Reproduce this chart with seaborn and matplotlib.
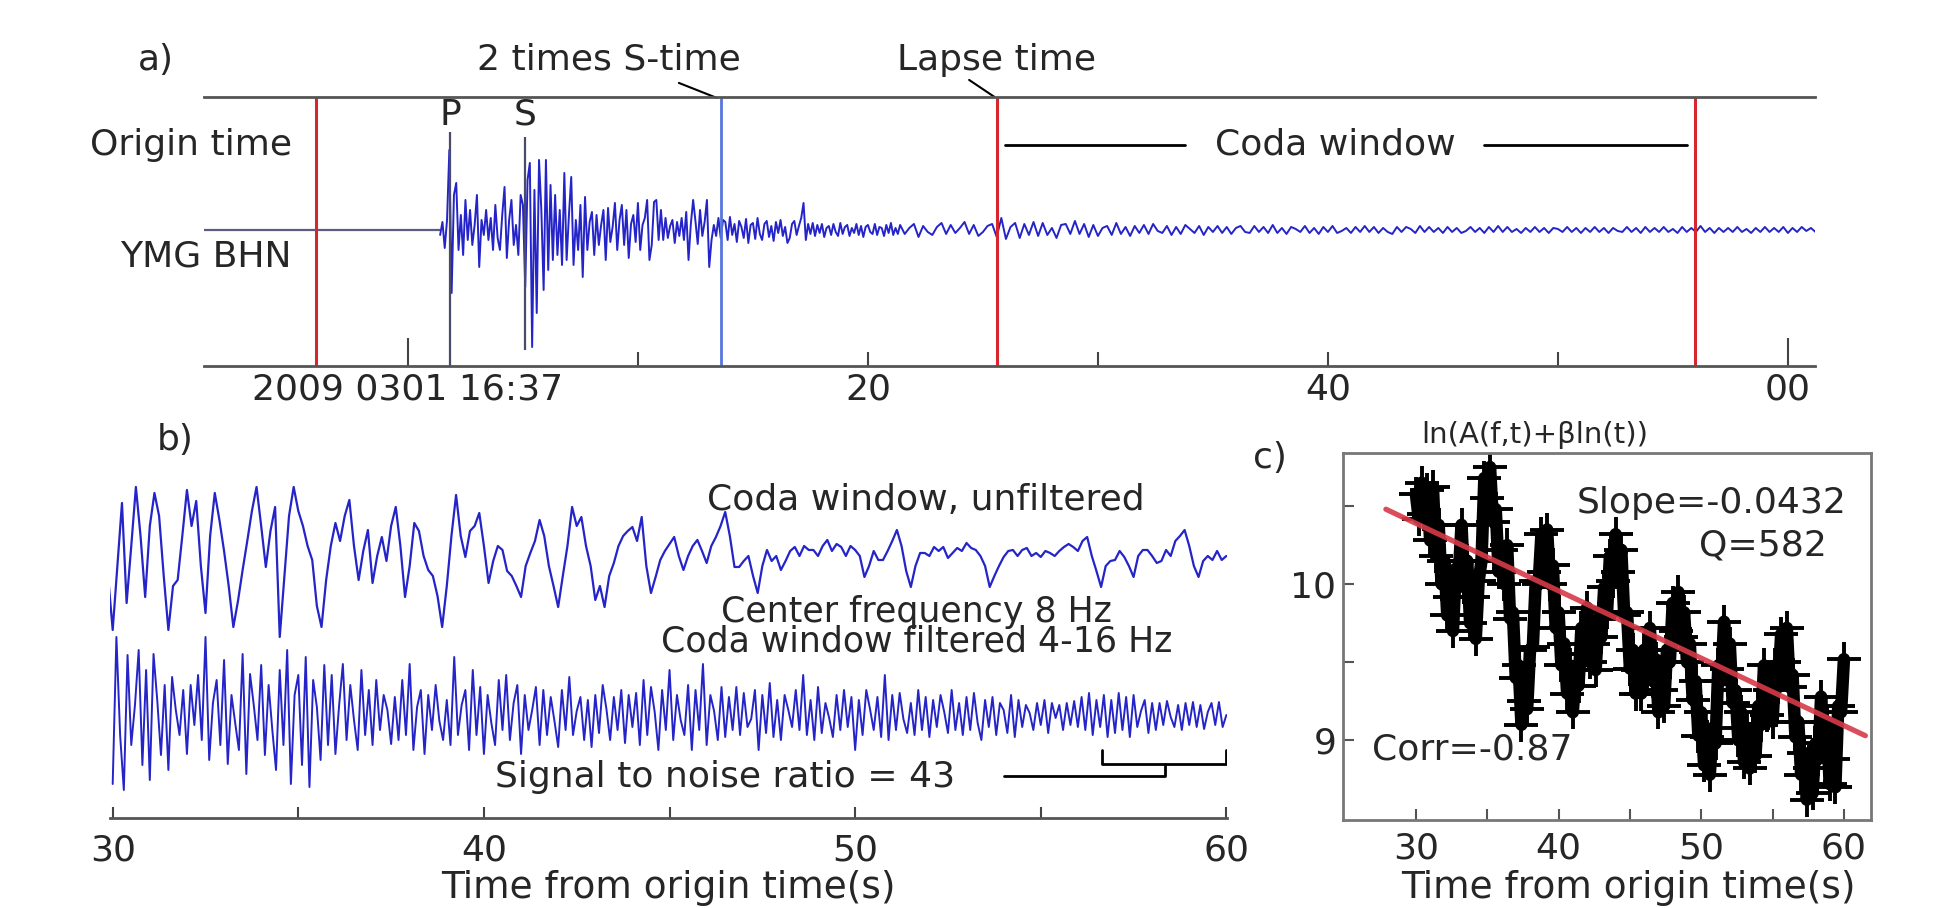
import numpy as np
import pandas as pd
import seaborn as sns
import matplotlib.pyplot as plt

# ---------------- panel a: YMG BHN, seconds after 2009-03-01 16:37:00 ----------------
# early part (P, S and early coda) read every 0.1 s
early_start = 1.4
early_dt = 0.1
early_amp = [
    -5, 8, -18, 10, 80, -63, 35, 47, -20, 15,
    -25, 30, -10, 20, -15, 5, 35, -37, 10, -5,
    20, -10, 12, -20, 25, -8, -20, 15, 43, -28,
    10, 30, -15, 5, -25, 35, 25, -57, 50, 67,
    -117, 40, -83, 70, 20, -60, 70, -40, 45, -30,
    35, -25, 20, -35, 57, -30, 15, 53, -35, 10,
    -20, 25, -47, 33, -20, 8, 18, -25, 15, -15,
    5, 20, -30, 22, -12, 3, 27, -20, 10, 25,
    -15, 20, -28, 6, 15, -12, 27, -20, 5, 12,
    30, -30, -15, 28, 30, -10, 20, -10, 12, -8,
    4, 10, -13, 8, -6, 12, -10, 18, -30, 6,
    30, 9, -14, 20, -6, 8, 30, -37, -10, 5,
    -6, 12, -8, 10, 8, -10, 13, -5, 6, -12,
    9, 3, -8, 11, -13, 5, 7, -9, 12, -4,
    -10, 6, 9, -7, 4, -11, 8, -3, 10, -6,
    3, -13, -8, 6, 9, -5, 4, 12, 27, -10,
    6, -4, 7, -6, 5, -3, 6, -7, 2, 4,
    -5, 6, -2, -6, 7, -4, 3, 5, -6, 2,
    -3, 6, -5, 4, -7, 3, 5, -2, -4, 6,
    -5, 3, 2, -6, 5, -3, 7, -5, 2, -4,
]
# late coda read every 0.2 s
late_start = 21.4
late_dt = 0.2
late_amp = [
    5, -4, 2, 6, -7, 4, -2, -5, 3, 7,
    -4, 5, -3, 2, 8, -4, 5, -6, -2, 4,
    6, -7, 12, -9, 3, 7, -8, 6, -5, 8,
    -6, 7, -5, 2, -8, 5, 6, -4, 9, -4,
    6, -7, 5, -6, 2, 4, -5, 7, -4, 3,
    -6, 4, -3, 5, -4, 6, -1, -3, 4, -5,
    3, -4, 5, 1, -3, 4, -5, 3, -2, 4,
    -3, 3, -4, 2, 4, -2, -3, 4, -2, 3,
    -3, 5, -3, 2, -4, 3, 1, -2, 4, -3,
    2, -4, 3, -2, 4, -3, -1, 2, -3, 3,
    -2, 4, -2, 3, -3, 2, -2, -4, 3, -2,
    3, 1, -3, 4, -2, 3, -2, 2, -3, 3,
    -2, 2, -3, -1, 3, -2, 2, -3, 3, -2,
    4, -2, 3, -2, 1, -3, 2, -2, 3, -2,
    2, -3, 2, 1, -2, 3, -2, 2, -3, 2,
    -2, 3, -2, 2, -3, 2, -1, -2, 3, -2,
    2, -3, 3, -2, 2, -2, 3, -2, 1, -3,
    3, -2, 2, -2, 4, -2, 2, -3, 2, -2,
    2, -2, 3, -2, 1, -3, 2, -2, 3, -2,
    2, -2, 3, -3, 2, -2, 3, -1, 2, -2,
    0,
]
origin_t = -4.0
p_t = 1.83
s_t = 5.09
two_s_t = 13.6
lapse_t = 25.6
coda_end_t = 55.95

# ---------------- panel b: coda window 30-60 s from origin ----------------
unf_start = 29.875
unf_dt = 0.125
unfiltered = [
    -20, -74, -10, 53, -47, 10, 69, 20,
    -41, 30, 63, 40, -20, -74, -30, -24,
    20, 66, 30, 55, -10, -57, 20, 63,
    36, 5, -30, -71, -45, -14, 15, 45,
    69, 30, -11, 25, 49, -81, -20, 40,
    69, 45, 30, 10, -4, -50, -71, -24,
    10, 33, 15, 40, 56, 10, -24, 5,
    26, -27, 0, 19, -5, 30, 49, 10,
    -41, -10, 33, 25, 0, -14, -20, -40,
    -71, -30, 20, 61, 20, -1, 25, 30,
    43, 10, -27, -5, 10, 6, -15, -20,
    -30, -41, -10, 3, 15, 36, 20, -10,
    -30, -51, -20, 10, 49, 30, 39, 10,
    -10, -44, -30, -51, -20, -7, 10, 20,
    25, 29, 15, 39, -10, -37, -21, -4,
    5, 12, 19, 0, -14, 0, 10, 16,
    5, -7, 10, 19, 30, 44, 20, -11,
    -11, -5, 0, -20, -37, -10, 6, -5,
    0, -14, -5, 5, 9, 0, 10, 6,
    6, 0, 10, 16, 5, 12, 9, 0,
    10, 6, 0, -21, -10, 5, -4, -4,
    5, 15, 26, 10, -15, -31, -10, 3,
    3, 0, 9, 5, 9, -2, 3, 8,
    5, 13, 8, 6, 0, -10, -31, -20,
    -10, -1, 5, 6, 0, 6, 8, 0,
    3, -1, 5, 3, 0, 5, 9, 12,
    9, 5, 15, 19, 0, -15, -31, -10,
    -5, -4, 5, -1, -10, -21, 0, 6,
    6, 0, -7, -5, 6, 0, 15, 20,
    26, 10, -10, -21, -5, 0, -4, 5,
    -4, 0,
]
filt_start = 30.0
filt_dt = 0.1
filtered = [
    -69, 78, -20, -75, 60, -30, 10, 65, -50, 45,
    -65, 61, 15, -40, 30, -55, 38, 5, -20, 25,
    -39, 30, -10, 40, -25, 78, -45, 12, 35, -30,
    55, -49, 20, -8, -35, 61, -59, 41, 10, -25,
    50, -40, 30, -15, -55, 45, -30, 65, -69, 20,
    40, -50, 58, -72, 35, 8, -45, 50, -30, 40,
    -39, 10, 51, -25, 30, -5, -35, 45, -20, 25,
    -30, 35, -15, 20, 5, -29, 18, -25, 35, -20,
    51, -35, 8, 25, -39, 20, -15, 30, -6, -25,
    15, -30, 58, -20, 10, 25, -35, 45, -20, 28,
    -39, 20, -8, -30, 35, -15, 40, -25, 12, 30,
    -39, 20, -15, 5, 28, -30, 25, -20, 18, -6,
    -32, 25, -15, 38, -20, 4, 18, -25, 15, -32,
    20, -18, 30, 6, -25, 18, -15, 25, -28, 20,
    -12, 22, -30, 35, -20, 28, 3, -35, 25, -15,
    45, -25, 20, -5, -20, 30, -35, 25, -15, 51,
    -30, 20, 4, -25, 28, -22, 18, -15, 28, -20,
    22, -12, -4, 25, -35, 20, -18, 32, -22, 15,
    -25, 20, 5, -12, 25, -15, 40, -20, 15, -25,
    28, -18, 12, -3, -22, 20, -15, 25, -12, 18,
    -35, 15, -20, 25, 6, -15, 18, -22, 40, -25,
    20, -15, 22, -4, -18, 12, -20, 25, -15, 18,
    -22, 15, -12, 20, 3, -18, 25, -15, 12, -20,
    18, -15, 22, -8, -25, 15, -12, 18, -20, 12,
    5, -18, 20, -22, 15, -12, 10, 2, -15, 12,
    -10, 15, -18, 12, -3, 10, -15, 12, -10, 14,
    -12, 18, -15, 22, -20, 15, -12, 20, -22, 15,
    -18, 22, -15, 18, -22, 20, -12, 4, 15, -18,
    12, -15, 12, -10, 14, -2, -12, 10, -15, 12,
    -10, 13, -12, 10, -14, 3, 12, -10, 13, -12,
    0,
]
snr = 43
snr_bracket_t = [56.64, 58.34, 59.98]   # noise start / junction / signal end
snr_leader_t = 54.0

# ---------------- panel c: ln(A(f,t)+beta ln(t)) ----------------
c_start = 30.0
c_dt = 0.2
ln_amp = [
    10.58, 10.42, 10.65, 10.45, 10.60, 10.28, 10.62, 10.18, 10.38, 10.00,
    10.15, 9.80, 9.92, 9.70, 10.10, 10.05, 10.38, 9.98, 10.15, 9.75,
    9.92, 9.65, 10.02, 10.15, 10.68, 10.55, 10.75, 10.40, 10.48, 10.08,
    10.22, 10.00, 10.25, 9.78, 9.82, 9.40, 9.48, 9.10, 9.25, 9.20,
    9.58, 9.60, 10.02, 10.00, 10.32, 10.08, 10.35, 10.00, 10.12, 9.72,
    9.82, 9.48, 9.62, 9.30, 9.48, 9.18, 9.45, 9.35, 9.72, 9.55,
    9.85, 9.50, 9.62, 9.45, 9.78, 9.66, 9.98, 9.82, 10.18, 10.02,
    10.32, 10.08, 10.22, 9.80, 9.82, 9.46, 9.58, 9.30, 9.45, 9.30,
    9.58, 9.44, 9.72, 9.38, 9.52, 9.18, 9.32, 9.22, 9.58, 9.50,
    9.88, 9.70, 9.95, 9.66, 9.82, 9.50, 9.62, 9.26, 9.38, 9.03,
    9.18, 8.84, 9.02, 8.78, 9.08, 8.98, 9.48, 9.38, 9.76, 9.46,
    9.62, 9.24, 9.32, 9.00, 9.18, 8.86, 9.08, 8.82, 9.08, 8.90,
    9.22, 9.10, 9.48, 9.16, 9.32, 9.12, 9.48, 9.34, 9.68, 9.50,
    9.72, 9.34, 9.42, 9.02, 9.12, 8.78, 8.92, 8.62, 8.82, 8.66,
    8.98, 8.88, 9.28, 8.96, 9.12, 8.72, 8.88, 8.70, 9.22, 9.18,
    9.52,
]
fit_t = [27.9, 61.5]
fit_v = [10.48, 9.03]
slope = -0.0432
q_value = 582
corr = -0.87

sns.set_style('white')
plt.rcParams['font.family'] = ['DejaVu Sans']
FS = 26
blue = '#2424c8'
red = '#d8262e'
gray = '#555555'

fig = plt.figure(figsize=(19.59, 9.08), dpi=100)

# ---------- a) ----------
ax_a = fig.add_axes([0.1041, 0.5969, 0.8223, 0.2958])
df_early = pd.DataFrame({'t': early_start + early_dt * np.arange(len(early_amp)), 'amp': early_amp})
df_late = pd.DataFrame({'t': late_start + late_dt * np.arange(len(late_amp)), 'amp': late_amp})
df_a = pd.concat([df_early, df_late], ignore_index=True)
ax_a.set_xlim(-8.87, 61.17)
ax_a.set_ylim(-136, 132.5)
ax_a.hlines(0, -8.87, df_a['t'].iloc[0], color='#5c5c80', lw=1.6)
sns.lineplot(data=df_a, x='t', y='amp', ax=ax_a, color=blue, lw=1.4, estimator=None, sort=False)
for t in [origin_t, lapse_t, coda_end_t]:
    ax_a.axvline(t, color=red, lw=2.2)
ax_a.axvline(two_s_t, color='#5577dd', lw=2.0)
ax_a.vlines(p_t, -136, 98, color='#4a4a6a', lw=1.6)
ax_a.vlines(s_t, -120, 93, color='#4a4a6a', lw=1.6)
ax_a.text(p_t, 115, 'P', ha='center', va='center', fontsize=FS)
ax_a.text(s_t, 115, 'S', ha='center', va='center', fontsize=FS)
ax_a.text(-5.04, 85, 'Origin time', ha='right', va='center', fontsize=FS)
ax_a.text(-5.04, -27, 'YMG BHN', ha='right', va='center', fontsize=FS)
ax_a.text(8.74, 170, '2 times S-time', ha='center', va='center', fontsize=FS)
ax_a.plot([11.78, 13.43], [147, 132], color='k', lw=1.5, clip_on=False)
ax_a.text(25.6, 170, 'Lapse time', ha='center', va='center', fontsize=FS)
ax_a.plot([24.4, 25.5], [150, 133], color='k', lw=1.5, clip_on=False)
ax_a.text(40.3, 85, 'Coda window', ha='center', va='center', fontsize=FS)
ax_a.plot([25.96, 33.8], [85, 85], color='k', lw=2)
ax_a.plot([46.8, 55.6], [85, 85], color='k', lw=2)
for side in ['left', 'right']:
    ax_a.spines[side].set_visible(False)
for side in ['top', 'bottom']:
    ax_a.spines[side].set_color(gray)
    ax_a.spines[side].set_linewidth(2)
ax_a.set_xticks([0, 60], ['2009 0301 16:37', '00'])
ax_a.set_xticks([10, 20, 30, 40, 50], ['', '20', '', '40', ''], minor=True)
ax_a.tick_params(axis='x', which='major', direction='in', length=20, width=1.5,
                 color='#444444', labelsize=FS, pad=5, bottom=True, top=False)
ax_a.tick_params(axis='x', which='minor', direction='in', length=10, width=1.5,
                 color='#444444', labelsize=FS, pad=5, bottom=True, top=False)
ax_a.set_yticks([])
ax_a.set_xlabel('')
ax_a.set_ylabel('')
fig.text(0.0796, 0.934, 'a)', ha='center', va='center', fontsize=FS)

# ---------- b) ----------
ax_b = fig.add_axes([0.0562, 0.0991, 0.5702, 0.3833])
unf_base = 262
filt_base = 103
df_unf = pd.DataFrame({'t': unf_start + unf_dt * np.arange(len(unfiltered)), 'v': np.array(unfiltered) + unf_base})
df_filt = pd.DataFrame({'t': filt_start + filt_dt * np.arange(len(filtered)), 'v': np.array(filtered) + filt_base})
sns.lineplot(data=df_unf, x='t', y='v', ax=ax_b, color=blue, lw=1.6, estimator=None, sort=False)
sns.lineplot(data=df_filt, x='t', y='v', ax=ax_b, color=blue, lw=1.4, estimator=None, sort=False)
ax_b.set_xlim(29.93, 60.02)
ax_b.set_ylim(0, 348)
ax_b.text(51.9, 318, 'Coda window, unfiltered', ha='center', va='center', fontsize=FS)
ax_b.text(51.65, 191, 'Center frequency 8 Hz\nCoda window filtered 4-16 Hz',
          ha='center', va='center', fontsize=FS - 1, linespacing=0.85)
ax_b.text(46.5, 41, f'Signal to noise ratio = {snr}', ha='center', va='center', fontsize=FS)
ax_b.plot([snr_leader_t, snr_bracket_t[1], snr_bracket_t[1]], [42, 42, 54.5], color='k', lw=2)
ax_b.plot([snr_bracket_t[0], snr_bracket_t[0], snr_bracket_t[2], snr_bracket_t[2]],
          [68, 54.5, 54.5, 68], color='k', lw=2)
for side in ['left', 'right', 'top']:
    ax_b.spines[side].set_visible(False)
ax_b.spines['bottom'].set_color(gray)
ax_b.spines['bottom'].set_linewidth(2)
ax_b.set_xticks([30, 40, 50, 60])
ax_b.set_xticks([35, 45, 55], minor=True)
ax_b.tick_params(axis='x', which='both', direction='in', length=8, width=1.5,
                 color='#444444', labelsize=FS, pad=11, bottom=True)
ax_b.set_yticks([])
ax_b.set_ylabel('')
ax_b.set_xlabel('Time from origin time(s)', fontsize=FS + 1)
ax_b.xaxis.set_label_coords(0.5, -0.15)
fig.text(0.0893, 0.5154, 'b)', ha='center', va='center', fontsize=FS)

# ---------- c) ----------
ax_c = fig.add_axes([0.6856, 0.0969, 0.2695, 0.4042])
df_c = pd.DataFrame({'t': c_start + c_dt * np.arange(len(ln_amp)), 'v': ln_amp})
sns.lineplot(data=df_c, x='t', y='v', ax=ax_c, color='black', lw=9, estimator=None, sort=False)
sns.scatterplot(data=df_c, x='t', y='v', ax=ax_c, color='black', marker='+', s=600, linewidth=2.8)
sns.lineplot(x=fit_t, y=fit_v, ax=ax_c, color='#d83a48', lw=3.8, alpha=0.9, estimator=None)
ax_c.set_xlim(24.9, 61.9)
ax_c.set_ylim(8.49, 10.84)
ax_c.text(60.15, 10.52, f'Slope={slope}', ha='right', va='center', fontsize=FS)
ax_c.text(58.8, 10.25, f'Q={q_value}', ha='right', va='center', fontsize=FS)
ax_c.text(26.9, 8.94, f'Corr={corr}', ha='left', va='center', fontsize=FS)
for side in ax_c.spines:
    ax_c.spines[side].set_color('#777777')
    ax_c.spines[side].set_linewidth(2)
ax_c.set_xticks([30, 40, 50, 60])
ax_c.set_xticks([35, 45, 55], minor=True)
ax_c.set_yticks([9, 10])
ax_c.set_yticks([9.5, 10.5], minor=True)
ax_c.tick_params(axis='x', which='both', direction='in', length=8, width=1.5,
                 color='#555555', labelsize=FS, pad=8, bottom=True)
ax_c.tick_params(axis='y', which='both', direction='in', length=8, width=1.5,
                 color='#555555', labelsize=FS, pad=5, left=True)
ax_c.set_ylabel('')
ax_c.set_xlabel('Time from origin time(s)', fontsize=FS + 1)
ax_c.xaxis.set_label_coords(0.54, -0.135)
fig.text(0.6483, 0.4956, 'c)', ha='center', va='center', fontsize=FS)
fig.text(0.7836, 0.5209, 'ln(A(f,t)+βln(t))', ha='center', va='center', fontsize=FS - 5)

fig.savefig('out.png', dpi=100, facecolor='white')
